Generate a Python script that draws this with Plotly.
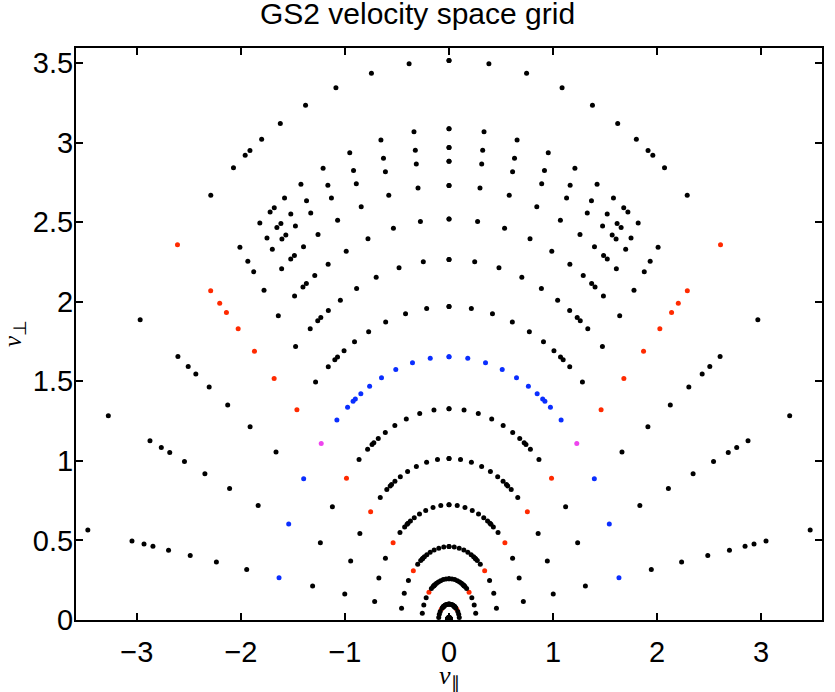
import numpy as np
import plotly.graph_objects as go

# energy grid (speed v) read along the v_par = 0 column
energies = [0.015, 0.10, 0.26, 0.462, 0.724, 1.015, 1.328, 1.655,
            1.970, 2.265, 2.520, 2.731, 2.883, 2.970, 3.087, 3.517]
xi = [0.0, 0.109, 0.212, 0.309, 0.392, 0.461, 0.512, 0.544, 0.557,
      0.589, 0.651, 0.742, 0.844, 0.931, 0.987]
# highlighted energy (blue) and pitch (red); magenta where they meet
blue_energy = 1.655
red_xi = 0.742

groups = {"black": ([], []), "red": ([], []), "blue": ([], []), "magenta": ([], [])}
for v in energies:
    for p in xi:
        for sgn in (-1, 1):
            vpar = sgn * v * p
            vperp = v * np.sqrt(1 - p ** 2)
            if v == blue_energy and p == red_xi:
                key = "magenta"
            elif v == blue_energy:
                key = "blue"
            elif p == red_xi:
                key = "red"
            else:
                key = "black"
            groups[key][0].append(vpar)
            groups[key][1].append(vperp)

colors = {"red": "#ff2a00", "blue": "#0a2eff", "magenta": "#ee44ee", "black": "black"}

fig = go.Figure()
for key in ["red", "blue", "magenta", "black"]:
    xs, ys = groups[key]
    fig.add_trace(go.Scatter(x=xs, y=ys, mode="markers",
                             marker=dict(color=colors[key], size=5),
                             showlegend=False, hoverinfo="skip"))

axis_common = dict(showline=True, linewidth=2, linecolor="black", mirror="allticks",
                   ticks="inside", ticklen=7, tickwidth=1.5, tickcolor="black",
                   showgrid=False, zeroline=False, automargin=False,
                   tickfont=dict(family="Liberation Sans", size=29, color="black"))

fig.update_layout(
    width=835, height=692,
    margin=dict(l=76, r=13, t=48, b=72),
    paper_bgcolor="white", plot_bgcolor="white",
    title=dict(text="GS2 velocity space grid", x=0.5, xanchor="center",
               y=0.98, yanchor="middle",
               font=dict(family="Liberation Sans", size=30, color="black")),
    xaxis=dict(range=[-3.585, 3.585], tickvals=[-3, -2, -1, 0, 1, 2, 3],
               ticktext=["\u22123", "\u22122", "\u22121", "0", "1", "2", "3"],
               ticklabelstandoff=5, **axis_common),
    yaxis=dict(range=[0, 3.595], tickvals=[0, 0.5, 1, 1.5, 2, 2.5, 3, 3.5],
               ticktext=["0", "0.5", "1", "1.5", "2", "2.5", "3", "3.5"],
               ticklabelstandoff=-5, **axis_common),
    annotations=[
        dict(text="<i>v</i><sub>\u2225</sub>", x=0, xref="x", y=-0.099, yref="paper",
             xanchor="center", yanchor="middle", showarrow=False,
             font=dict(family="Liberation Serif", size=26, color="black")),
        dict(text="<i>v</i><sub>\u22a5</sub>", x=-0.083, xref="paper", y=0.5, yref="paper",
             xanchor="center", yanchor="middle", showarrow=False, textangle=-90,
             font=dict(family="Liberation Serif", size=25, color="black")),
    ],
)

# drop the default body margin so the figure sits at the page corner
fig.write_html("out.html", config={"displayModeBar": False},
               post_script="document.body.style.margin='0';")
